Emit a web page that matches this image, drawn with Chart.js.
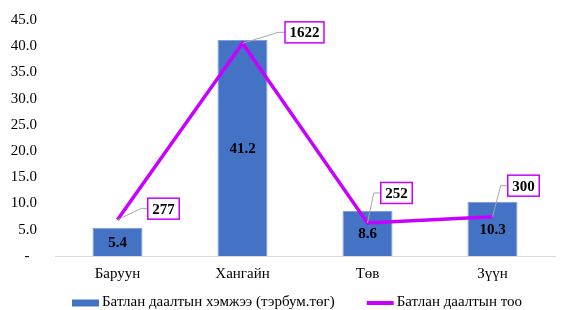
<!DOCTYPE html>
<html lang="mn">
<head>
  <meta charset="UTF-8">
  <title>Батлан даалт</title>
  <script src="https://cdn.jsdelivr.net/npm/chart.js"></script>
  <style>
    html, body { margin: 0; padding: 0; background: #fff; }
    .wrap { width: 566px; height: 310px; }
  </style>
</head>
<body>
  <div class="wrap">
    <canvas id="myChart" width="566" height="310"></canvas>
  </div>
<script>
  // data
  const bussuud = ['Баруун', 'Хангайн', 'Төв', 'Зүүн'];
  const hemjee = [5.4, 41.2, 8.6, 10.3];      // тэрбум төг
  const too = [277, 1622, 252, 300];
  const yTicks = [0, 5, 10, 15, 20, 25, 30, 35, 40, 45];

  // where each boxed line label sits relative to its point (dx, dy)
  const labelOffsets = [[46, -11], [62, -11], [29, -30], [31, -31]];

  const serif = "'Liberation Serif', 'Times New Roman', serif";
  const blue = '#4472C4';
  const purple = '#C800FF';

  const shoshgo = {
    id: 'shoshgo',
    afterDatasetsDraw(chart) {
      const ctx = chart.ctx;
      ctx.save();
      ctx.font = 'bold 15px ' + serif;
      ctx.textAlign = 'center';
      ctx.textBaseline = 'middle';

      // bar values, centred inside each bar (dataset 1 = bars)
      const bars = chart.getDatasetMeta(1).data;
      ctx.fillStyle = '#000';
      bars.forEach((b, i) => {
        ctx.fillText(hemjee[i].toFixed(1), b.x, (b.y + b.base) / 2 + 1);
      });

      // line values in boxes with leader lines (dataset 0 = line)
      const pts = chart.getDatasetMeta(0).data;
      pts.forEach((p, i) => {
        const txt = String(too[i]);
        const w = ctx.measureText(txt).width + 9;
        const h = 21;
        const cx = p.x + labelOffsets[i][0];
        const cy = p.y + labelOffsets[i][1];
        const left = cx - w / 2;

        ctx.strokeStyle = '#A6A6A6';
        ctx.lineWidth = 1;
        ctx.beginPath();
        ctx.moveTo(p.x, p.y);
        ctx.lineTo(left - 7, cy);
        ctx.lineTo(left, cy);
        ctx.stroke();

        ctx.fillStyle = '#fff';
        ctx.fillRect(left, cy - h / 2, w, h);
        ctx.strokeStyle = purple;
        ctx.lineWidth = 1.5;
        ctx.strokeRect(left, cy - h / 2, w, h);

        ctx.fillStyle = '#000';
        ctx.fillText(txt, cx, cy + 1);
      });
      ctx.restore();
    },
    // legend drawn by hand so it can sit where the original has it
    afterDraw(chart) {
      const ctx = chart.ctx;
      const ds = chart.data.datasets;
      const items = [ds[1], ds[0]];
      const y = 302;
      const swatch = 27, gapText = 3, gapItem = 32;
      ctx.save();
      ctx.font = '15px ' + serif;
      ctx.textBaseline = 'middle';
      ctx.textAlign = 'left';
      let x = 72;
      items.forEach(d => {
        if (d.type === 'line') {
          ctx.strokeStyle = d.borderColor;
          ctx.lineWidth = 4;
          ctx.beginPath();
          ctx.moveTo(x, y + 1);
          ctx.lineTo(x + swatch, y + 1);
          ctx.stroke();
        } else {
          ctx.fillStyle = d.backgroundColor;
          ctx.fillRect(x, y - 2.5, swatch, 7);
        }
        x += swatch + gapText;
        ctx.fillStyle = '#000';
        ctx.fillText(d.label, x, y);
        x += ctx.measureText(d.label).width + gapItem;
      });
      ctx.restore();
    }
  };

  const data = {
    labels: bussuud,
    datasets: [
      {
        type: 'line',
        label: 'Батлан даалтын тоо',
        data: too,
        yAxisID: 'y2',
        borderColor: purple,
        backgroundColor: purple,
        borderWidth: 3.5,
        pointRadius: 0,
        tension: 0,
        order: 0
      },
      {
        type: 'bar',
        label: 'Батлан даалтын хэмжээ (тэрбум.төг)',
        data: hemjee,
        yAxisID: 'y',
        backgroundColor: blue,
        borderColor: '#7F9FD8',
        borderWidth: 1,
        categoryPercentage: 1,
        barPercentage: 0.4,
        order: 1
      }
    ]
  };

  const config = {
    data: data,
    options: {
      responsive: false,
      animation: false,
      layout: {
        autoPadding: false,
        padding: { left: 0, right: 11, top: 20, bottom: 24 }
      },
      scales: {
        x: {
          grid: { display: false, drawTicks: false },
          border: { color: '#D9D9D9', width: 1 },
          afterFit(axis) {
            axis.height = 30;
          },
          ticks: {
            color: '#000',
            font: { family: serif, size: 15 },
            padding: 9
          }
        },
        y: {
          min: 0,
          max: 45,
          afterBuildTicks(axis) {
            axis.ticks = yTicks.map(v => ({ value: v }));
          },
          afterFit(axis) {
            axis.width = 55;
            axis.paddingTop = 0;
            axis.paddingBottom = 0;
          },
          grid: { display: false, drawTicks: false },
          border: { display: false },
          ticks: {
            color: '#000',
            font: { family: serif, size: 15 },
            padding: 18,
            callback: v => v === 0 ? '-  ' : Number(v).toFixed(1)
          }
        },
        y2: {
          min: 0,
          max: 1800,
          display: false
        }
      },
      plugins: {
        tooltip: { enabled: false },
        legend: { display: false }
      }
    },
    plugins: [shoshgo]
  };

  const myChart = new Chart(document.getElementById('myChart'), config);
</script>
</body>
</html>
